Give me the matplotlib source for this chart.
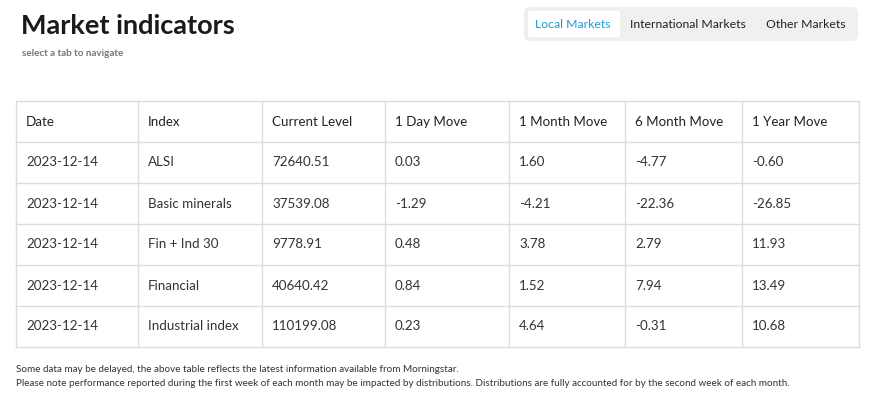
import matplotlib.pyplot as plt
from matplotlib.patches import FancyBboxPatch

headers = ["Date", "Index", "Current Level", "1 Day Move", "1 Month Move", "6 Month Move", "1 Year Move"]
dates = ["2023-12-14"] * 5
indices = ["ALSI", "Basic minerals", "Fin + Ind 30", "Financial", "Industrial index"]
levels = ["72640.51", "37539.08", "9778.91", "40640.42", "110199.08"]
day_move = ["0.03", "-1.29", "0.48", "0.84", "0.23"]
month_move = ["1.60", "-4.21", "3.78", "1.52", "4.64"]
six_month_move = ["-4.77", "-22.36", "2.79", "7.94", "-0.31"]
year_move = ["-0.60", "-26.85", "11.93", "13.49", "10.68"]
tabs = ["Local Markets", "International Markets", "Other Markets"]

plt.rcParams['font.family'] = 'Lato'
fig = plt.figure(figsize=(8.7, 4), dpi=100)
ax = fig.add_axes([0, 0, 1, 1])
ax.set_xlim(0, 870)
ax.set_ylim(400, 0)
ax.axis('off')

# title block
ax.text(21, 26, "Market indicators", fontsize=19.5, fontweight='bold', color='#1a1a1a', va='center')
ax.text(22, 54, "select a tab to navigate", fontsize=7.1, fontweight='bold', color='#777777', va='center')

# tabs
ax.add_patch(FancyBboxPatch((524, 7), 334, 34, boxstyle="round,pad=0,rounding_size=6",
                            fc='#f0f0f0', ec='none'))
ax.add_patch(FancyBboxPatch((527, 10), 94, 28, boxstyle="round,pad=0,rounding_size=4",
                            fc='white', ec='#e6e6e6', lw=0.6))
tab_x = [573, 688, 806]
for i, (t, x) in enumerate(zip(tabs, tab_x)):
    ax.text(x, 25, t, fontsize=8.8, ha='center', va='center',
            color='#1a9be0' if i == 0 else '#222222')

# table
col_edges = [16, 138, 262, 385, 509, 625, 742, 859]
row_edges = [101, 142, 183, 224, 265, 306, 347]
grid = '#dcdde3'
for x in col_edges:
    ax.plot([x, x], [row_edges[0], row_edges[-1]], color=grid, lw=1)
for y in row_edges:
    ax.plot([col_edges[0], col_edges[-1]], [y, y], color=grid, lw=1)

columns = [dates, indices, levels, day_move, month_move, six_month_move, year_move]
for c, h in enumerate(headers):
    ax.text(col_edges[c] + 10, (row_edges[0] + row_edges[1]) / 2, h, fontsize=9.6,
            va='center', color='#222222')
for r in range(len(indices)):
    yc = (row_edges[r + 1] + row_edges[r + 2]) / 2
    for c, col in enumerate(columns):
        ax.text(col_edges[c] + 10, yc, col[r], fontsize=9.6, va='center', color='#333333')

ax.text(16, 369, "Some data may be delayed, the above table reflects the latest information available from Morningstar.",
        fontsize=7.1, va='center', color='#333333')
ax.text(16, 384, "Please note performance reported during the first week of each month may be impacted by distributions. "
        "Distributions are fully accounted for by the second week of each month.",
        fontsize=7.1, va='center', color='#333333')

fig.savefig("out.png", dpi=100)
